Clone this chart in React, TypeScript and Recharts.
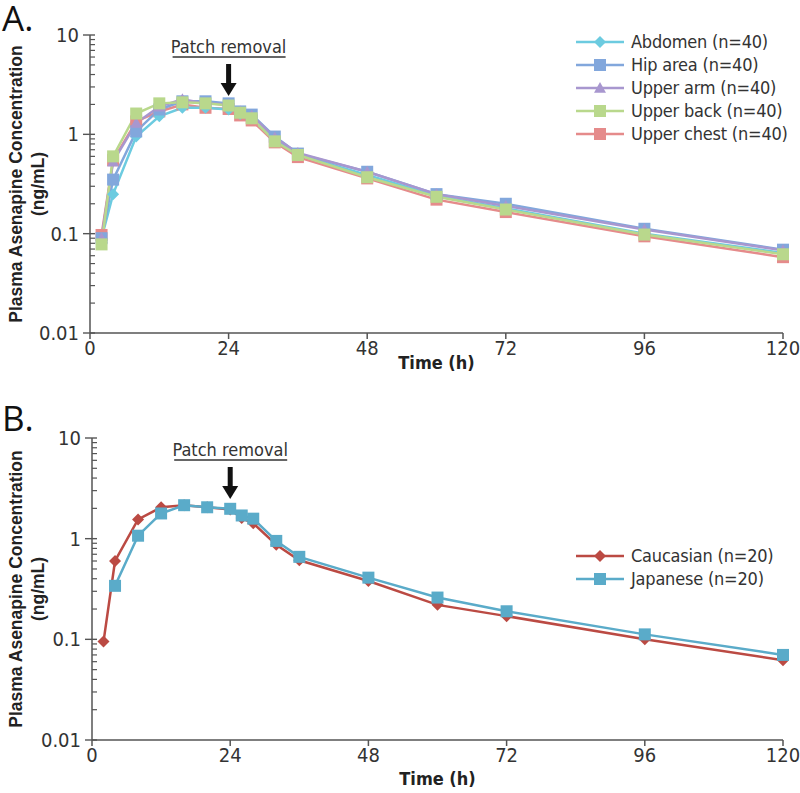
import React from "react";
import {
    Legend,
    Line,
    LineChart,
    ReferenceDot,
    XAxis,
    YAxis,
} from "recharts";

// sampling times (h)
const times = [2, 4, 8, 12, 16, 20, 24, 26, 28, 32, 36, 48, 60, 72, 96, 120];

// panel A: application site
const abdomen = [0.09, 0.25, 0.95, 1.52, 1.85, 1.85, 1.78, 1.6, 1.45, 0.88, 0.62, 0.39, 0.24, 0.18, 0.1, 0.064];
const hipArea = [0.09, 0.35, 1.07, 1.78, 2.15, 2.15, 2.05, 1.7, 1.58, 0.95, 0.64, 0.42, 0.25, 0.2, 0.112, 0.069];
const upperArm = [0.09, 0.53, 1.3, 1.9, 2.25, 2.05, 2.0, 1.7, 1.55, 0.93, 0.65, 0.42, 0.25, 0.19, 0.11, 0.068];
const upperBack = [0.078, 0.6, 1.62, 2.05, 2.1, 2.05, 1.95, 1.65, 1.45, 0.85, 0.62, 0.37, 0.235, 0.175, 0.098, 0.062];
const upperChest = [0.097, 0.55, 1.35, 1.7, 2.0, 1.85, 1.8, 1.55, 1.38, 0.83, 0.59, 0.36, 0.22, 0.165, 0.094, 0.058];

// panel B: ethnicity
const caucasian = [0.095, 0.6, 1.55, 2.05, 2.15, 2.05, 1.95, 1.6, 1.42, 0.87, 0.61, 0.38, 0.22, 0.17, 0.1, 0.062];
const japanese = [null, 0.34, 1.07, 1.78, 2.15, 2.05, 1.98, 1.7, 1.58, 0.95, 0.66, 0.41, 0.26, 0.19, 0.112, 0.07];

const xTicks = [0, 24, 48, 72, 96, 120];
const yTicks = [
    0.01, 0.02, 0.03, 0.04, 0.05, 0.06, 0.07, 0.08, 0.09,
    0.1, 0.2, 0.3, 0.4, 0.5, 0.6, 0.7, 0.8, 0.9,
    1, 2, 3, 4, 5, 6, 7, 8, 9, 10,
];
const majorTicks = [0.01, 0.1, 1, 10];

const siteSeries = [
    { key: "abdomen", label: "Abdomen (n=40)", color: "#6ccbe0", shape: "diamond" },
    { key: "hip", label: "Hip area (n=40)", color: "#82a7dc", shape: "square" },
    { key: "arm", label: "Upper arm (n=40)", color: "#a897cf", shape: "triangle" },
    { key: "back", label: "Upper back (n=40)", color: "#b9d88c", shape: "square" },
    { key: "chest", label: "Upper chest (n=40)", color: "#e58b8b", shape: "square" },
];
// draw order so the green squares end up on top, like the original
const siteDrawOrder = ["chest", "abdomen", "hip", "arm", "back"];

const ethnicSeries = [
    { key: "caucasian", label: "Caucasian (n=20)", color: "#bb4a43", shape: "diamond" },
    { key: "japanese", label: "Japanese (n=20)", color: "#5aabc9", shape: "square" },
];

const rowsA = times.map((t, i) => ({
    t,
    abdomen: abdomen[i],
    hip: hipArea[i],
    arm: upperArm[i],
    back: upperBack[i],
    chest: upperChest[i],
}));

const rowsB = times.map((t, i) => ({
    t,
    caucasian: caucasian[i],
    japanese: japanese[i],
}));

const narrow = "'DejaVu Sans Condensed', 'Liberation Sans Narrow', Arial, sans-serif";
const axisColor = "#555";

function Marker({ cx, cy, shape, color, s = 6 }: any) {
    if (cx == null || cy == null || Number.isNaN(cy)) return <g />;
    if (shape === "diamond") {
        return (
            <polygon
                points={`${cx},${cy - s} ${cx + s},${cy} ${cx},${cy + s} ${cx - s},${cy}`}
                fill={color}
            />
        );
    }
    if (shape === "triangle") {
        return (
            <polygon
                points={`${cx},${cy - s} ${cx + s},${cy + s * 0.8} ${cx - s},${cy + s * 0.8}`}
                fill={color}
            />
        );
    }
    return <rect x={cx - s} y={cy - s} width={s * 2} height={s * 2} fill={color} />;
}

function YTick({ x, y, payload }: any) {
    const v = payload.value;
    const axisX = x + 12;
    const major = majorTicks.some((m) => Math.abs(m - v) < 1e-9);
    if (!major) {
        return <line x1={axisX} x2={axisX + 5} y1={y} y2={y} stroke={axisColor} strokeWidth={1.2} />;
    }
    return (
        <g>
            <line x1={axisX - 7} x2={axisX + 5} y1={y} y2={y} stroke={axisColor} strokeWidth={1.4} />
            <text
                x={axisX - 11}
                y={y}
                textAnchor="end"
                dominantBaseline="central"
                fontFamily={narrow}
                fontSize={20}
                fill="#333"
            >
                {String(v)}
            </text>
        </g>
    );
}

function YTitle({ viewBox }: any) {
    const cy = viewBox.y + viewBox.height / 2;
    return (
        <g fontFamily="'Liberation Sans', Arial, sans-serif" fontWeight="bold" fontSize={17.5} fill="#222">
            <text transform={`translate(16, ${cy}) rotate(-90)`} textAnchor="middle" dominantBaseline="central">
                Plasma Asenapine Concentration
            </text>
            <text transform={`translate(38, ${cy}) rotate(-90)`} textAnchor="middle" dominantBaseline="central">
                (ng/mL)
            </text>
        </g>
    );
}

function PatchRemoval({ cx, cy }: any) {
    return (
        <g>
            <text
                x={cx}
                y={cy + 18}
                textAnchor="middle"
                fontFamily={narrow}
                fontSize={18}
                fill="#333"
            >
                Patch removal
            </text>
            <line x1={cx - 56} x2={cx + 57} y1={cy + 22} y2={cy + 22} stroke="#333" strokeWidth={1.3} />
            <rect x={cx - 2.5} y={cy + 29} width={5} height={20} fill="#111" />
            <polygon points={`${cx - 8},${cy + 48} ${cx + 8},${cy + 48} ${cx},${cy + 61}`} fill="#111" />
        </g>
    );
}

function makeLegend(items: any[]) {
    return () => (
        <div style={{ fontFamily: narrow, fontSize: 18, color: "#333", whiteSpace: "nowrap", letterSpacing: -0.2 }}>
            {items.map((it) => (
                <div key={it.key} style={{ display: "flex", alignItems: "center", height: 23 }}>
                    <svg width={50} height={16} style={{ marginRight: 5, flex: "none" }}>
                        <line x1={0} x2={48} y1={8} y2={8} stroke={it.color} strokeWidth={2.5} />
                        <Marker cx={24} cy={8} shape={it.shape} color={it.color} s={6} />
                    </svg>
                    <span>{it.label}</span>
                </div>
            ))}
        </div>
    );
}

function Panel({ rows, series, order, letter, top, height, marginTop, xAxisHeight, titleOffset, legendTop, yAxisWidth }: any) {
    const byKey: any = {};
    series.forEach((s: any) => (byKey[s.key] = s));
    return (
        <div style={{ position: "absolute", left: 0, top, width: 800, height }}>
            <LineChart
                width={800}
                height={height}
                data={rows}
                margin={{ top: marginTop, right: 17, left: 0, bottom: 0 }}
            >
                <XAxis
                    dataKey="t"
                    type="number"
                    domain={[0, 120]}
                    ticks={xTicks}
                    height={xAxisHeight}
                    stroke={axisColor}
                    strokeWidth={1.5}
                    tickSize={6}
                    tickMargin={2}
                    tick={{ fontFamily: narrow, fontSize: 20, fill: "#333" }}
                    label={{
                        value: "Time (h)",
                        position: "insideBottom",
                        offset: titleOffset,
                        style: { fontFamily: narrow, fontWeight: "bold", fontSize: 18, fill: "#222" },
                    }}
                />
                <YAxis
                    type="number"
                    scale="log"
                    domain={[0.01, 10]}
                    allowDataOverflow
                    ticks={yTicks}
                    interval={0}
                    width={yAxisWidth}
                    stroke={axisColor}
                    strokeWidth={1.5}
                    tickLine={false}
                    tickSize={7}
                    tickMargin={5}
                    tick={<YTick />}
                    label={<YTitle />}
                />
                <Legend
                    layout="vertical"
                    align="center"
                    verticalAlign="middle"
                    wrapperStyle={{ left: 576, top: legendTop, width: 222 }}
                    content={makeLegend(series)}
                />
                {order.map((k: string) => {
                    const s = byKey[k];
                    return (
                        <Line
                            key={k}
                            dataKey={k}
                            stroke={s.color}
                            strokeWidth={2.5}
                            isAnimationActive={false}
                            dot={(p: any) => (
                                <Marker key={`${k}-${p.index}`} cx={p.cx} cy={p.cy} shape={s.shape} color={s.color} />
                            )}
                            activeDot={false}
                            legendType="none"
                        />
                    );
                })}
                <ReferenceDot x={24} y={10} ifOverflow="visible" shape={<PatchRemoval />} />
            </LineChart>
            <div
                style={{
                    position: "absolute",
                    left: 2,
                    top: 0,
                    fontFamily: "'Open Sans', 'DejaVu Sans', sans-serif",
                    fontSize: 35,
                    lineHeight: "36px",
                    color: "#111",
                }}
            >
                {letter}
            </div>
        </div>
    );
}

export default function App() {
    return (
        <div style={{ position: "absolute", left: 0, top: 0, width: 800, height: 793, background: "#fff" }}>
            <Panel
                rows={rowsA}
                series={siteSeries}
                order={siteDrawOrder}
                letter="A."
                top={0}
                height={395}
                marginTop={35}
                xAxisHeight={62}
                titleOffset={26}
                legendTop={30}
                yAxisWidth={90}
            />
            <Panel
                rows={rowsB}
                series={ethnicSeries}
                order={["caucasian", "japanese"]}
                letter="B."
                top={400}
                height={393}
                marginTop={38}
                xAxisHeight={53}
                titleOffset={8}
                legendTop={144}
                yAxisWidth={92}
            />
        </div>
    );
}
